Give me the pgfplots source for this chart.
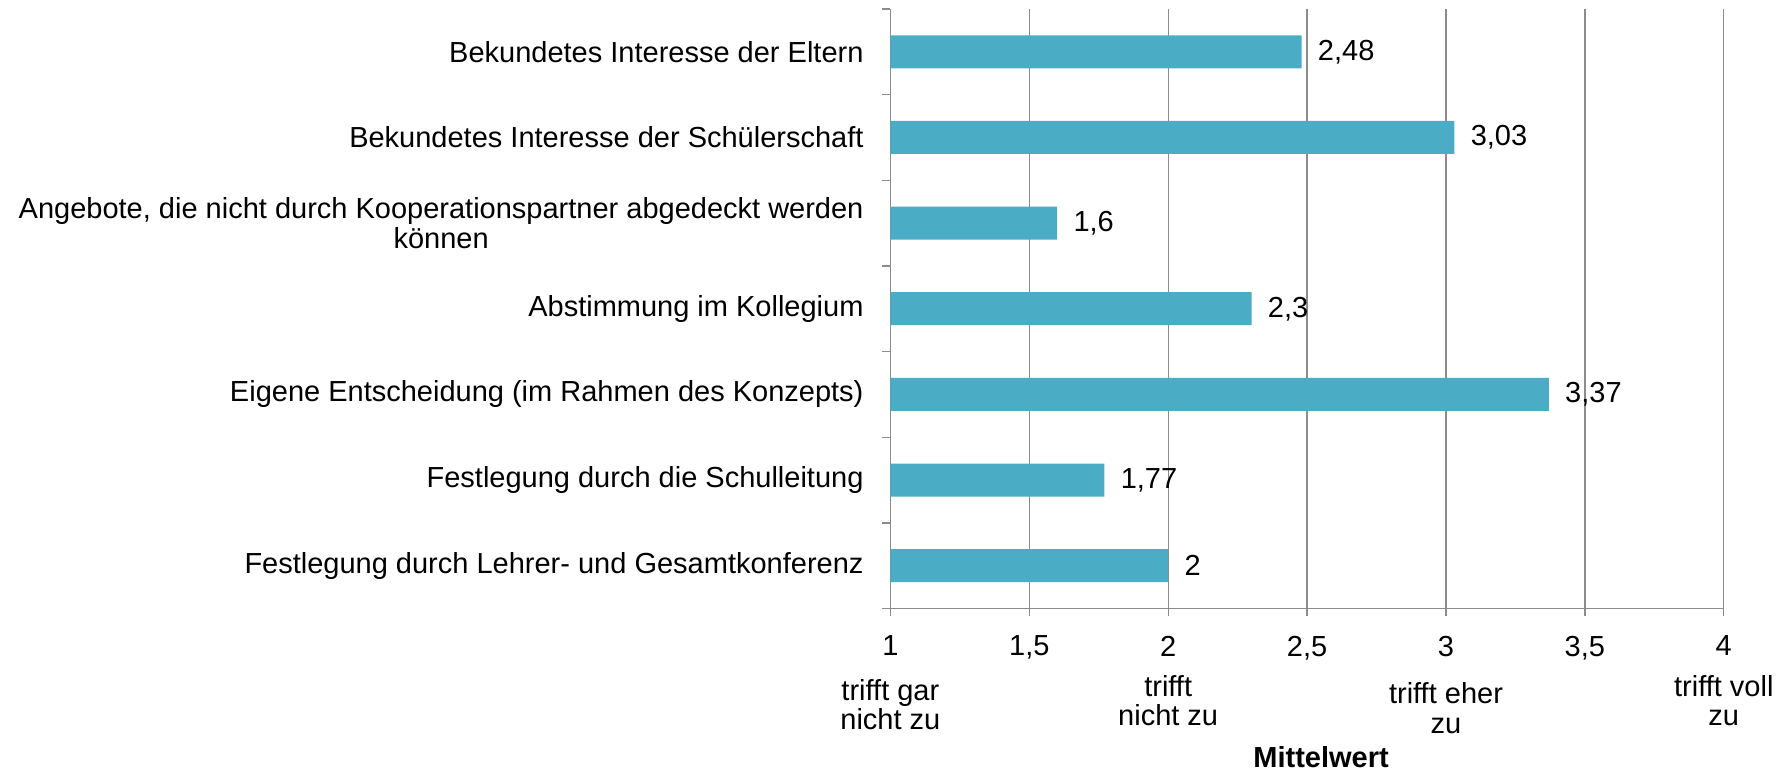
\documentclass[border=0pt]{standalone}
\usepackage{pgfplots}
\pgfplotsset{compat=1.18}
\usepackage{fontspec}
\setmainfont{Liberation Sans}
\definecolor{barc}{HTML}{4BACC6}
\definecolor{gridc}{HTML}{8C8C8C}
\pgfplotsset{/pgf/number format/.cd, use comma, 1000 sep={}, assume math mode=true}
\begin{document}
\fontsize{14.5}{14.7}\selectfont
\begin{tikzpicture}
\begin{axis}[
  xbar, bar width=16.5pt,
  scale only axis, width=416.7pt, height=299.75pt,
  xmin=1, xmax=4, ymin=-0.5, ymax=6.5,
  clip mode=individual,
  axis x line*=bottom, axis y line*=left,
  axis line style={gridc, line width=0.65pt},
  xtick={1,1.5,...,4},
  xmajorgrids, major grid style={gridc, line width=0.65pt},
  tick style={gridc, line width=0.65pt},
  tick align=outside, major tick length=4pt,
  xticklabel style={yshift=-4.7pt},
  ytick={-0.5,0.5,...,6.5}, yticklabels={,,,,,,,},
  extra y ticks={0,1,2,3,4,5,6},
  extra y tick labels={Festlegung durch Lehrer- und Gesamtkonferenz, Festlegung durch die Schulleitung, Eigene Entscheidung (im Rahmen des Konzepts), Abstimmung im Kollegium, {Angebote, die nicht durch Kooperationspartner abgedeckt werden\\können}, Bekundetes Interesse der Schülerschaft, Bekundetes Interesse der Eltern},
  extra y tick style={major tick length=0pt, tick style={draw=none}, yticklabel style={align=center, xshift=-8.4pt}},
]
\addplot[fill=barc, draw=none, point meta=x,
  nodes near coords, nodes near coords align={horizontal},
  every node near coord/.append style={anchor=west, xshift=3.2pt, black}]
  coordinates {(2,0) (1.77,1) (3.37,2) (2.3,3) (1.6,4) (3.03,5) (2.48,6)};
\coordinate (O) at (rel axis cs:0,0);
\node[align=center, yshift=-48.2pt] at (axis cs:1,-0.5) {trifft gar\\nicht zu};
\node[align=center, yshift=-46.2pt] at (axis cs:2,-0.5) {trifft\\nicht zu};
\node[align=center, yshift=-49.75pt] at (axis cs:3,-0.5) {trifft eher\\zu};
\node[align=center, yshift=-46.2pt] at (axis cs:4,-0.5) {trifft voll\\zu};
\node[font=\bfseries, xshift=7pt, yshift=-74.25pt] at (rel axis cs:0.5,0) {Mittelwert};
\end{axis}
\pgfresetboundingbox
\path (O) ++(-445.2pt,-80.75pt) rectangle ++(895pt,385pt);
\end{tikzpicture}
\end{document}
